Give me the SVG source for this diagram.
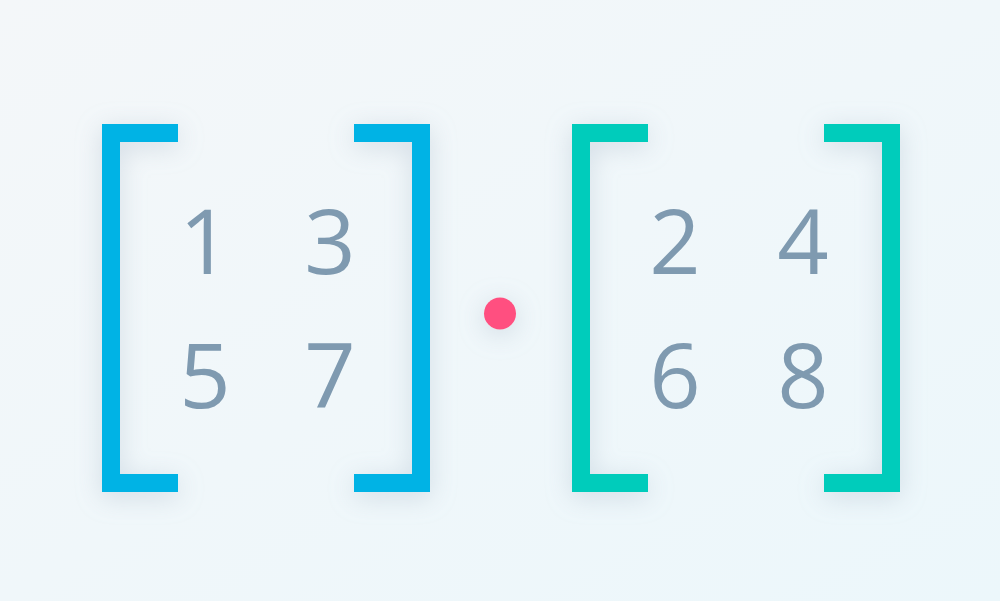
<svg xmlns="http://www.w3.org/2000/svg" width="1000" height="601" viewBox="0 0 1000 601">
<defs>
<linearGradient id="bg" x1="0" y1="0" x2="1" y2="1">
<stop offset="0" stop-color="#f4f7f9"/>
<stop offset="1" stop-color="#ecf7fb"/>
</linearGradient>
<filter id="sh" filterUnits="userSpaceOnUse" x="0" y="0" width="1000" height="601">
<feDropShadow dx="0" dy="5" stdDeviation="13" flood-color="#9fb0c2" flood-opacity="0.4"/>
</filter>
</defs>
<style>
.blue{fill:#00b3e5}
.teal{fill:#00ccbb}
.num{font-family:"Open Sans","Noto Sans",sans-serif;font-size:90px;fill:#7f9ab0;text-anchor:middle}
</style>
<rect width="1000" height="601" fill="url(#bg)"/>
<g id="matrix-a">
<path class="blue" filter="url(#sh)" d="M102 124H178V142H120V474H178V492H102Z"/>
<path class="blue" filter="url(#sh)" d="M430 124H354V142H412V474H354V492H430Z"/>
<text class="num" x="205" y="274">1</text>
<text class="num" x="330" y="274">3</text>
<text class="num" x="205" y="408">5</text>
<text class="num" x="330" y="408">7</text>
</g>
<g id="dot">
<circle cx="500" cy="313.5" r="16" fill="#ff5080" filter="url(#sh)"/>
</g>
<g id="matrix-b">
<path class="teal" filter="url(#sh)" d="M572 124H648V142H590V474H648V492H572Z"/>
<path class="teal" filter="url(#sh)" d="M900 124H824V142H882V474H824V492H900Z"/>
<text class="num" x="675" y="274">2</text>
<text class="num" x="803" y="274">4</text>
<text class="num" x="675" y="408">6</text>
<text class="num" x="803" y="408">8</text>
</g>
<g id="connectors"/>
</svg>
